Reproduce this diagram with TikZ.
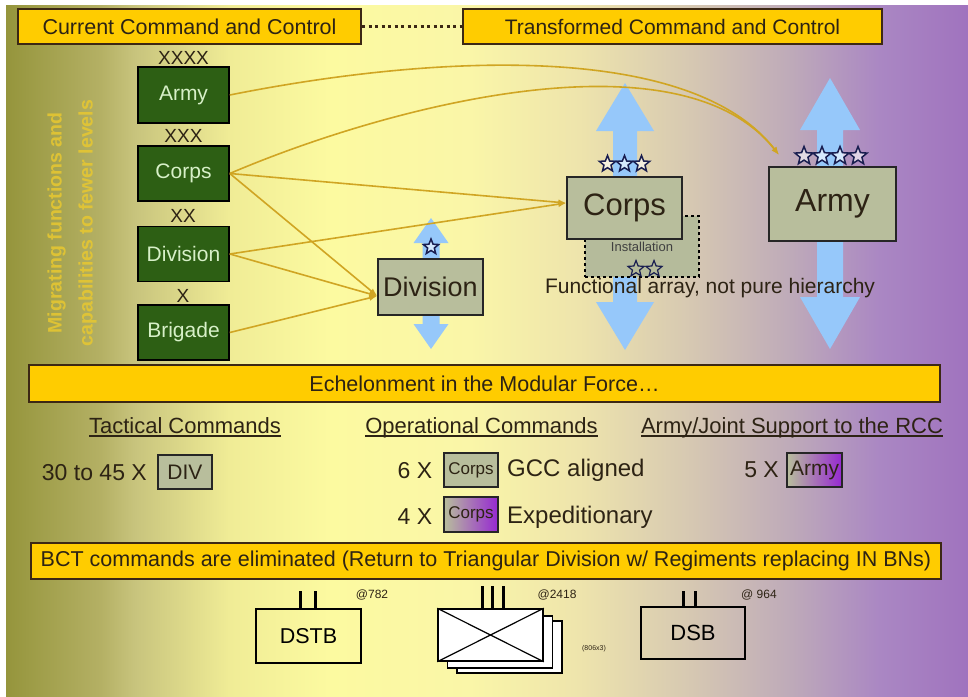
\documentclass[tikz,border=0pt]{standalone}
\usepackage{fontspec}
\setmainfont{Liberation Sans}
\usetikzlibrary{shapes.geometric,arrows.meta,calc}

% palette
\definecolor{bgA}{RGB}{149,149,60}
\definecolor{bgB}{RGB}{180,176,100}
\definecolor{bgC}{RGB}{200,196,125}
\definecolor{bgD}{RGB}{240,236,150}
\definecolor{bgE}{RGB}{252,250,160}
\definecolor{bgF}{RGB}{250,246,168}
\definecolor{bgG}{RGB}{238,228,172}
\definecolor{bgH}{RGB}{214,200,178}
\definecolor{bgI}{RGB}{190,170,185}
\definecolor{bgJ}{RGB}{170,135,195}
\definecolor{bgK}{RGB}{160,115,190}
\definecolor{gold}{RGB}{255,204,0}
\definecolor{edge}{RGB}{60,40,20}
\definecolor{ink}{RGB}{45,35,20}
\definecolor{armygreen}{RGB}{45,95,20}
\definecolor{palegreen}{RGB}{215,240,200}
\definecolor{cmdgray}{RGB}{184,190,156}
\definecolor{linkgold}{RGB}{208,165,35}
\definecolor{skyarrow}{RGB}{150,200,250}
\definecolor{navy}{RGB}{25,30,80}
\definecolor{migr}{RGB}{232,200,48}
\definecolor{violet}{RGB}{150,40,210}

% page background: olive on the left, pale yellow in the middle, violet on the right
\pgfdeclarehorizontalshading{bgshade}{100bp}{%
  color(0bp)=(bgA); color(25bp)=(bgA); color(29.9bp)=(bgB); color(31.7bp)=(bgC);
  color(36.6bp)=(bgD); color(41.8bp)=(bgE); color(49.1bp)=(bgF); color(54.8bp)=(bgG);
  color(60.6bp)=(bgH); color(65.8bp)=(bgI); color(70.4bp)=(bgJ); color(75bp)=(bgK);
  color(100bp)=(bgK)}

\newcommand\fsz[1]{\fontsize{#1}{#1}\selectfont}
% underline at a fixed depth, so that every column heading is ruled at the same height
\newcommand\hdrule[1]{\setbox0=\hbox{#1}\rlap{\rule[-3.5pt]{\wd0}{1.3pt}}\box0}
% vertical double-headed arrow: x, top, bottom, head width, head length, shaft width
\newcommand\bluedbl[6]{%
  \fill[skyarrow] (#1,#2) -- ({#1+#4/2},{#2+#5}) -- ({#1+#6/2},{#2+#5})
    -- ({#1+#6/2},{#3-#5}) -- ({#1+#4/2},{#3-#5}) -- (#1,#3)
    -- ({#1-#4/2},{#3-#5}) -- ({#1-#6/2},{#3-#5}) -- ({#1-#6/2},{#2+#5})
    -- ({#1-#4/2},{#2+#5}) -- cycle;}

\tikzset{
  hdr/.style={draw=edge, line width=2pt, fill=gold, text=ink, font=\fsz{21.5}, inner sep=0pt},
  gbox/.style={draw=black, line width=1.6pt, fill=armygreen, text=palegreen,
    font=\fsz{21}, minimum width=91pt, minimum height=55pt, inner sep=0pt},
  echmark/.style={text=ink, font=\fsz{19}, inner sep=0pt},
  cmdbox/.style={draw=black!85, line width=1.4pt, fill=cmdgray, text=ink, inner sep=0pt},
  link/.style={draw=linkgold, line width=1.6pt, -{Latex[length=8pt,width=6pt]}},
  rank/.style={shape=star, star points=5, star point ratio=2.3, minimum size=17pt,
    inner sep=0pt, draw=navy, line width=1.5pt, fill=white, fill opacity=0.6},
  lbl/.style={text=ink, inner sep=0pt},
  colhead/.style={text=ink, inner sep=0pt, font=\fsz{22}, anchor=base},
  unitbox/.style={draw=black, line width=1.5pt, inner sep=0pt},
  unittick/.style={draw=black, line width=3pt},
}

\begin{document}
\begin{tikzpicture}[x=1pt,y=-1pt]
\useasboundingbox (0,0) rectangle (968,696);
\fill[white] (0,0) rectangle (968,696);
\shade[shading=bgshade] (6,5) rectangle (968,696);

% side caption
\node[rotate=90, text=migr, opacity=0.85, align=center,
  font=\bfseries\fontsize{19.5}{31}\selectfont] (migrate) at (72,223)
  {Migrating functions and\\capabilities to fewer levels};

% headers
\node[hdr, minimum width=343pt, minimum height=35pt] (curhdr) at (189.5,26.5) {Current Command and Control};
\node[hdr, minimum width=419pt, minimum height=35pt, font=\fsz{21}] (newhdr) at (672.5,26.5) {Transformed Command and Control};
\draw[edge, line width=3pt, dash pattern=on 3pt off 3.5pt] (curhdr.east) -- (newhdr.west);

% blue double arrows behind the new command posts
\bluedbl{431}{218}{349}{35}{25}{17}
\bluedbl{625}{83}{350}{58}{48}{24}
\bluedbl{830}{78}{349}{60}{52}{26}

% installation box behind the corps
\node[draw=black, dashed, line width=1.2pt, fill=cmdgray!95!gray, minimum width=114pt,
  minimum height=61pt, inner sep=0pt] (inst) at (642,246.5) {};
\node[lbl, text=black!75, font=\fsz{13}] (instlbl) at (642,247) {Installation};

% current echelons
\node[gbox, minimum height=56pt] (larmy) at (183.5,95) {Army};
\node[gbox] (lcorps) at (183.5,173.5) {Corps};
\node[gbox] (ldiv) at (183.5,254) {Division};
\node[gbox] (lbrig) at (183.5,332.5) {Brigade};
\node[echmark] (m4) at (183.5,57.5) {XXXX};
\node[echmark] (m3) at (183.5,136) {XXX};
\node[echmark] (m2) at (183,216) {XX};
\node[echmark] (m1) at (183,295.5) {X};

% transformed command posts
\node[cmdbox, minimum width=105pt, minimum height=56pt, font=\fsz{27}] (rdiv) at (430.5,287) {Division};
\node[cmdbox, minimum width=115pt, minimum height=62pt, font=\fsz{31}] (rcorps) at (624.5,208) {Corps};
\node[cmdbox, minimum width=127pt, minimum height=74pt, font=\fsz{32}] (rarmy) at (832.5,204) {Army};

% rank stars
\node[rank, minimum size=16pt] (sdiv) at (431,247) {};
\node[rank] (sc1) at (607.5,164) {};
\node[rank] (sc2) at (624.5,164) {};
\node[rank] (sc3) at (641.5,164) {};
\node[rank, minimum size=19pt] (sa1) at (804,156) {};
\node[rank, minimum size=19pt] (sa2) at (822,156) {};
\node[rank, minimum size=19pt] (sa3) at (840,156) {};
\node[rank, minimum size=19pt] (sa4) at (858,156) {};
\node[rank, fill opacity=0, line width=1.2pt] (si1) at (636,269) {};
\node[rank, fill opacity=0, line width=1.2pt] (si2) at (654,269) {};

\node[lbl, font=\fsz{21}] (functional) at (710,288) {Functional array, not pure hierarchy};

% migration of functions
\coordinate (armyin) at (779,155);
\coordinate (corpsin) at ([yshift=5pt]rcorps.west);
\coordinate (divin) at ([yshift=-9pt]rdiv.west);
\draw[link] (larmy.east) .. controls (430,55) and (690,40) .. (armyin);
\draw[link] (lcorps.east) .. controls (390,105) and (680,30) .. (armyin);
\draw[link] (lcorps.east) -- (corpsin);
\draw[link] (ldiv.east) -- (corpsin);
\draw[link] (lcorps.east) -- (divin);
\draw[link] (ldiv.east) -- (divin);
\draw[link] (lbrig.east) -- (divin);

% modular force summary
\node[hdr, minimum width=911pt, minimum height=37pt] (echelon) at (484.5,383.5) {Echelonment in the Modular Force\dots};
\node[colhead] (tac) at (185,433) {\hdrule{Tactical Commands}};
\node[colhead] (ops) at (481.5,433) {\hdrule{Operational Commands}};
\node[colhead] (sup) at (792,433) {\hdrule{Army/Joint Support to the RCC}};

\node[lbl, font=\fsz{23}, anchor=east] (n30) at (147,473) {30 to 45 X};
\node[cmdbox, minimum width=54pt, minimum height=34pt, font=\fsz{21}] (divbox) at (185,472) {DIV};

\node[lbl, font=\fsz{23}] (n6) at (415,471) {6 X};
\node[cmdbox, minimum width=54pt, minimum height=34pt, font=\fsz{17}] (cbox1) at (471,470) {Corps};
\node[lbl, font=\fsz{24}, anchor=west] (gcc) at (507,470) {GCC aligned};

\node[lbl, font=\fsz{23}] (n4) at (415,517) {4 X};
\node[cmdbox, left color=cmdgray, right color=violet, minimum width=54pt, minimum height=35pt,
  font=\fsz{17}] (cbox2) at (471,514.5) {Corps};
\node[lbl, font=\fsz{24}, anchor=west] (exped) at (507,517) {Expeditionary};

\node[lbl, font=\fsz{23}] (n5) at (761.5,470) {5 X};
\node[cmdbox, left color=cmdgray, right color=violet, minimum width=55pt, minimum height=34pt,
  font=\fsz{21}] (abox) at (814.5,470) {Army};

\node[hdr, minimum width=910pt, minimum height=36pt] (bct) at (486,561)
  {BCT commands are eliminated (Return to Triangular Division w/ Regiments replacing IN BNs)};

% divisional units
\node[unitbox, minimum width=105pt, minimum height=54pt, font=\fsz{21.5}] (dstb) at (308.5,636) {DSTB};
\draw[unittick] ([xshift=-8pt]dstb.north) -- ++(0,-17);
\draw[unittick] ([xshift=7pt]dstb.north) -- ++(0,-17);
\node[lbl, font=\fsz{12}] (c782) at (372,595) {@782};

\node[unitbox, fill=white, minimum width=105pt, minimum height=52pt] (reg3) at (509.5,647) {};
\node[unitbox, fill=white, minimum width=105pt, minimum height=52pt] (reg2) at (500,642) {};
\node[unitbox, fill=white, minimum width=105pt, minimum height=52pt] (reg1) at (490.5,635) {};
\draw[black, line width=1.2pt] (reg1.north west) -- (reg1.south east);
\draw[black, line width=1.2pt] (reg1.south west) -- (reg1.north east);
\draw[unittick] ([xshift=-8.5pt]reg1.north) -- ++(0,-22);
\draw[unittick] ([xshift=1.5pt]reg1.north) -- ++(0,-22);
\draw[unittick] ([xshift=12.5pt]reg1.north) -- ++(0,-22);
\node[lbl, font=\fsz{12}] (c2418) at (557,595) {@2418};
\node[lbl, font=\fsz{7}] (c806) at (594,649) {(806x3)};

\node[unitbox, minimum width=104pt, minimum height=52pt, font=\fsz{22}] (dsb) at (693,633) {DSB};
\draw[unittick] ([xshift=-10pt]dsb.north) -- ++(0,-15);
\draw[unittick] ([xshift=2pt]dsb.north) -- ++(0,-15);
\node[lbl, font=\fsz{12}] (c964) at (759,595) {@ 964};
\end{tikzpicture}
\end{document}
